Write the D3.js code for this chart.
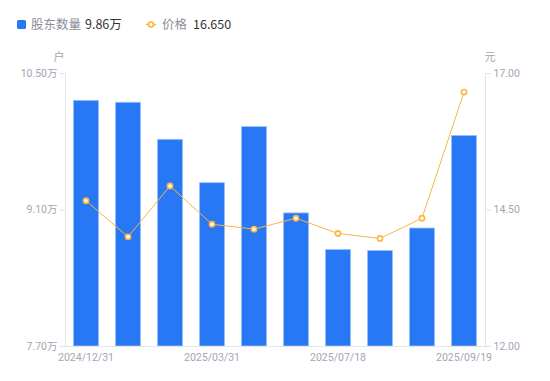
<!DOCTYPE html>
<html><head><meta charset="utf-8">
<script src="https://cdn.jsdelivr.net/npm/d3@7"></script>
<style>body{margin:0;background:#fff;}svg{display:block;font-family:"Noto Sans CJK SC","Noto Sans",sans-serif;}</style>
</head><body>
<svg id="c" width="550" height="381"></svg>
<script>
const categories = ["2024/12/31","2025/01/20","2025/02/28","2025/03/31","2025/04/30","2025/06/30","2025/07/18","2025/08/10","2025/08/31","2025/09/19"];
const holders = [10.22, 10.20, 9.82, 9.375, 9.95, 9.065, 8.69, 8.68, 8.91, 9.86];
const prices = [14.66, 14.00, 14.93, 14.23, 14.14, 14.34, 14.06, 13.97, 14.34, 16.65];
const leftTicks = [7.70, 9.10, 10.50];
const rightTicks = [12.00, 14.50, 17.00];
const shownLabels = ["2024/12/31","2025/03/31","2025/07/18","2025/09/19"];

const svg = d3.select("#c");
const L = 65, R = 485, T = 73, B = 346;
const x = d3.scaleBand().domain(categories).range([L, R]).paddingInner(0.4).paddingOuter(0.2);
const yL = d3.scaleLinear().domain([7.70, 10.50]).range([B, T]);
const yR = d3.scaleLinear().domain([12, 17]).range([B, T]);
const axisColor = "#e3e5ea", textColor = "#a3a6b4";

// axis lines
svg.append("line").attr("x1", L+0.5).attr("x2", L+0.5).attr("y1", T).attr("y2", B).attr("stroke", axisColor);
svg.append("line").attr("x1", R+0.5).attr("x2", R+0.5).attr("y1", T).attr("y2", B).attr("stroke", axisColor);

// left axis
const gl = svg.append("g").attr("transform", `translate(${L+0.5},0)`)
  .call(d3.axisLeft(yL).tickValues(leftTicks).tickSize(6).tickPadding(2).tickFormat(d => d3.format(".2f")(d) + "万"));
gl.select(".domain").remove();
gl.selectAll(".tick line").attr("stroke", axisColor);
gl.selectAll(".tick text").attr("fill", textColor).attr("font-size", 10.5).attr("font-family", "Roboto, 'Noto Sans CJK SC', sans-serif");

// right axis
const gr = svg.append("g").attr("transform", `translate(${R+0.5},0)`)
  .call(d3.axisRight(yR).tickValues(rightTicks).tickSize(6).tickPadding(2).tickFormat(d3.format(".2f")));
gr.select(".domain").remove();
gr.selectAll(".tick line").attr("stroke", axisColor);
gr.selectAll(".tick text").attr("fill", textColor).attr("font-size", 10.5).attr("font-family", "Roboto, sans-serif");

// bars
svg.append("g").selectAll("rect").data(holders).join("rect")
  .attr("x", (d,i) => x(categories[i]))
  .attr("width", x.bandwidth())
  .attr("y", d => yL(d))
  .attr("height", d => B - yL(d))
  .attr("fill", "#2878f5")
  .attr("stroke", "#9cc2fb").attr("stroke-width", 0.8);

// bottom axis
svg.append("line").attr("x1", L).attr("x2", R+1).attr("y1", B+0.5).attr("y2", B+0.5).attr("stroke", axisColor);
const gb = svg.append("g").attr("transform", `translate(0,${B})`)
  .call(d3.axisBottom(x).tickValues(shownLabels).tickSize(0).tickPadding(8));
gb.select(".domain").remove();
gb.selectAll(".tick text").attr("fill", textColor).attr("font-size", 10.5).attr("font-family", "Roboto, sans-serif");

// price line
const cx = (d,i) => x(categories[i]) + x.bandwidth()/2;
const line = d3.line().x(cx).y(d => yR(d));
svg.append("path").datum(prices).attr("d", line).attr("fill", "none").attr("stroke", "#fbb540").attr("stroke-width", 1);
svg.append("g").selectAll("circle").data(prices).join("circle")
  .attr("cx", cx).attr("cy", d => yR(d)).attr("r", 2.6)
  .attr("fill", "#fff").attr("stroke", "#fbb540").attr("stroke-width", 1.6);

// unit labels
svg.append("text").attr("x", 59).attr("y", 61).attr("text-anchor", "middle").attr("fill", textColor).attr("font-size", 11).text("户");
svg.append("text").attr("x", 490).attr("y", 61).attr("text-anchor", "middle").attr("fill", textColor).attr("font-size", 11).text("元");

// legend
const lg = svg.append("g");
lg.append("rect").attr("x", 17).attr("y", 20).attr("width", 9).attr("height", 9).attr("rx", 1.5).attr("fill", "#2878f5");
lg.append("text").attr("x", 31).attr("y", 29).attr("fill", "#8a8d99").attr("font-size", 12.5).text("股东数量");
lg.append("text").attr("x", 85).attr("y", 29).attr("fill", "#333").attr("font-size", 12.5).text(d3.format(".2f")(holders[holders.length-1]) + "万");
lg.append("line").attr("x1", 146).attr("x2", 156).attr("y1", 24.5).attr("y2", 24.5).attr("stroke", "#fbb540").attr("stroke-width", 1.5);
lg.append("circle").attr("cx", 151).attr("cy", 24.5).attr("r", 2.5).attr("fill", "#fff").attr("stroke", "#fbb540").attr("stroke-width", 1.6);
lg.append("text").attr("x", 162).attr("y", 29).attr("fill", "#8a8d99").attr("font-size", 12.5).text("价格");
lg.append("text").attr("x", 193).attr("y", 29).attr("fill", "#333").attr("font-size", 12.5).text(d3.format(".3f")(prices[prices.length-1]));
</script>
</body></html>
